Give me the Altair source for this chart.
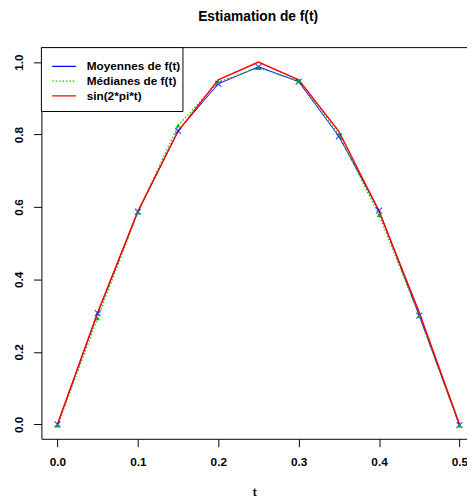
import altair as alt
import pandas as pd

t = [0.0, 0.05, 0.1, 0.15, 0.2, 0.25, 0.3, 0.35, 0.4, 0.45, 0.5]
moyennes = [0.0, 0.307, 0.587, 0.81, 0.94, 0.987, 0.946, 0.795, 0.59, 0.30, -0.002]
medianes = [-0.003, 0.293, 0.585, 0.825, 0.945, 0.984, 0.948, 0.80, 0.578, 0.30, -0.003]
sinus = [0.0, 0.309, 0.588, 0.809, 0.951, 1.0, 0.951, 0.809, 0.588, 0.309, 0.0]
legend_labels = ["Moyennes de f(t)", "Médianes de f(t)", "sin(2*pi*t)"]
x_ticks = [0.0, 0.1, 0.2, 0.3, 0.4, 0.5]
y_ticks = [0.0, 0.2, 0.4, 0.6, 0.8, 1.0]

BLUE = "#0000FF"
GREEN = "#00CD00"
RED = "#FF0000"
FONT = "Liberation Sans"

df = pd.DataFrame({"t": t, "moy": moyennes, "med": medianes, "sin": sinus})

W, H = 433, 398
xs = alt.Scale(domain=[-0.02, 0.5094], nice=False, zero=False)
ys = alt.Scale(domain=[-0.04, 1.04], nice=False, zero=False)

xax = alt.Axis(values=x_ticks, format=".1f", title="t", tickSize=8, labelPadding=10,
               titlePadding=20, grid=False, labelFlush=False, labelOverlap=False)
yax = alt.Axis(values=y_ticks, format=".1f", title=None, tickSize=8, labelAngle=270,
               labelAlign="center", labelBaseline="bottom", labelPadding=8, grid=False)

base = alt.Chart(df)

blue_line = base.mark_line(color=BLUE, strokeWidth=1).encode(
    x=alt.X("t:Q", scale=xs, axis=xax), y=alt.Y("moy:Q", scale=ys, axis=yax))
blue_pts = base.mark_point(shape="M-1,-1L1,1M-1,1L1,-1", filled=False, color=BLUE,
                           size=36, strokeWidth=1.2).encode(
    x=alt.X("t:Q", scale=xs), y=alt.Y("moy:Q", scale=ys))
green_line = base.mark_line(color=GREEN, strokeWidth=1.3, strokeDash=[1.5, 2]).encode(
    x=alt.X("t:Q", scale=xs), y=alt.Y("med:Q", scale=ys))
green_pts = base.mark_point(shape="triangle-up", filled=True, color="#00B400", size=22,
                            opacity=1).encode(
    x=alt.X("t:Q", scale=xs), y=alt.Y("med:Q", scale=ys))
red_line = base.mark_line(color=RED, strokeWidth=1.5).encode(
    x=alt.X("t:Q", scale=xs), y=alt.Y("sin:Q", scale=ys))

top_border = alt.Chart(pd.DataFrame({"a": [0]})).mark_rule(color="black", strokeWidth=1).encode(
    x=alt.value(0), x2=alt.value(W), y=alt.value(0))

legend_box = alt.Chart(pd.DataFrame({"a": [0]})).mark_rect(
    fill="white", stroke="black", strokeWidth=1).encode(
    x=alt.value(0), x2=alt.value(144), y=alt.value(0), y2=alt.value(65))

leg_colors = [BLUE, GREEN, RED]
leg_dash = [[1, 0], [1.5, 2], [1, 0]]
leg_y = [19, 34, 49]
legend_layers = []
for i, lab in enumerate(legend_labels):
    d = pd.DataFrame({"label": [lab]})
    legend_layers.append(
        alt.Chart(d).mark_rule(color=leg_colors[i], strokeWidth=1.3,
                               strokeDash=leg_dash[i]).encode(
            x=alt.value(11), x2=alt.value(35), y=alt.value(leg_y[i])))
    legend_layers.append(
        alt.Chart(d).mark_text(align="left", baseline="middle", font=FONT,
                               fontSize=12, fontWeight="bold", color="black").encode(
            x=alt.value(46), y=alt.value(leg_y[i]), text="label:N"))

chart = alt.layer(
    blue_line, green_line, red_line, blue_pts, green_pts, top_border, legend_box,
    *legend_layers
).properties(
    width=W, height=H,
    title=alt.TitleParams("Estiamation de f(t)", font=FONT, fontSize=14,
                          fontWeight="bold", offset=24, dx=4, anchor="middle"),
    autosize=alt.AutoSizeParams(type="none"),
    padding={"left": 34, "top": 36, "right": 0, "bottom": 60},
).configure_view(stroke=None).configure_axis(
    domainColor="black", tickColor="black", labelColor="black", titleColor="black",
    labelFont=FONT, titleFont=FONT, labelFontSize=12, titleFontSize=12,
    labelFontWeight="bold", titleFontWeight="bold", domainWidth=1, tickWidth=1
)

chart.save("out.html", embed_options={"renderer": "svg", "actions": False})
